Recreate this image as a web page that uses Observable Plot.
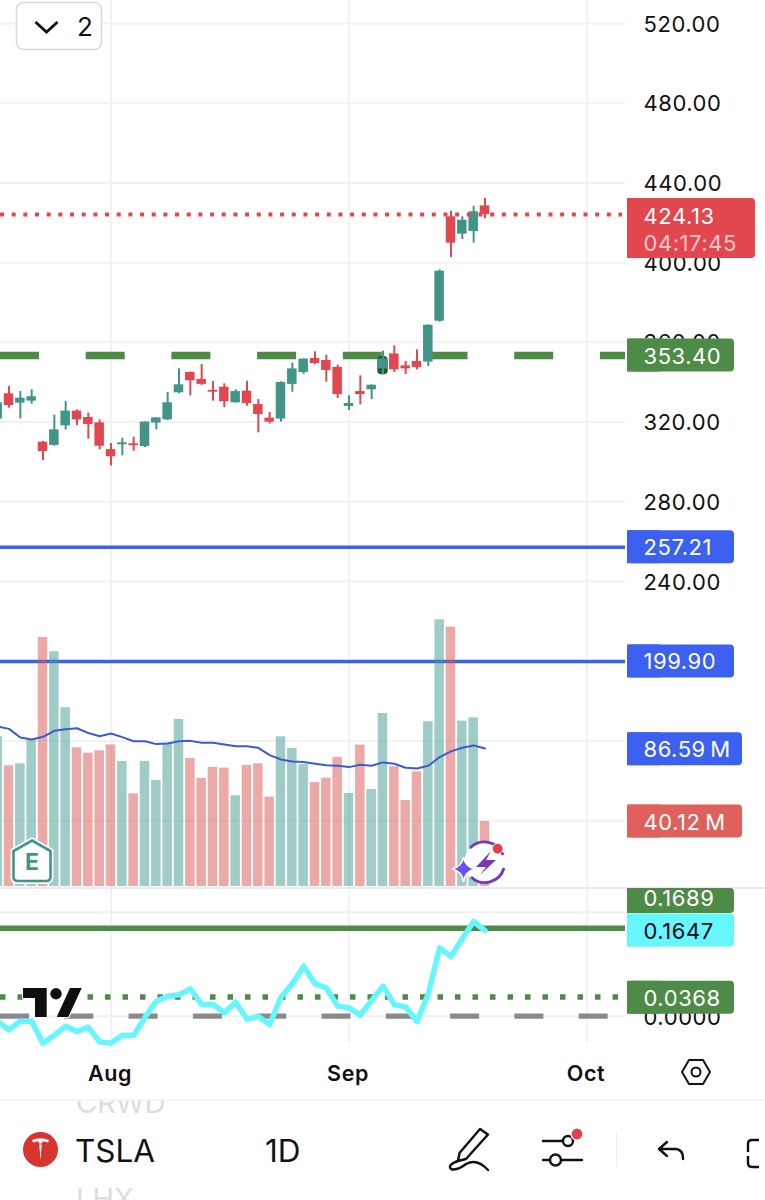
<!DOCTYPE html>
<html>
<head>
<meta charset="utf-8">
<title>TSLA 1D</title>
<script src="https://cdn.jsdelivr.net/npm/d3@7"></script>
<script src="https://cdn.jsdelivr.net/npm/@observablehq/plot@0.6"></script>
<style>
  html, body { margin: 0; background: #fff; }
  #stage { position: relative; width: 765px; height: 1200px; overflow: hidden; background: #fff; font-family: Inter, sans-serif; }
  #stage > svg { position: absolute; left: 0; top: 0; }
  .wide-text text { letter-spacing: 0.55px; }
</style>
</head>
<body>
<div id="stage"></div>
<script>
// ---- data (trading-day index: 0 = 1 Aug, 21 = 2 Sep, 42 = 1 Oct) ----
const firstDay = -10;
const opens = [321.5,334.2,329.5,330.5,309.9,308.3,318.1,325.5,322.3,319.6,306.2,308.6,309.1,307.75,319.5,321.1,334.7,344.9,341.4,335.9,337.5,329.7,335.5,328.8,322.0,321.5,338.9,344.9,351.9,350.9,347.4,327.8,335.3,336.2,346.7,354.2,348.2,350.4,350.1,370.6,423.0,414.3,415.6,428.5];
const closes = [329.7,328.3,332.0,332.7,305.2,316.1,325.5,321.1,318.8,307.9,302.6,309.6,308.1,320.0,322.1,329.7,338.7,340.7,338.9,335.0,330.2,335.3,329.3,323.8,319.95,339.9,346.7,351.6,349.4,345.9,333.8,329.3,333.8,338.5,351.7,346.2,346.7,347.4,368.6,395.7,409.8,421.3,425.5,424.13];
const highs = [331,337.9,335.3,336.2,310.3,323.5,330.3,326.1,324.5,321.1,309.3,311.9,312.4,320.1,322.1,334.9,346.7,345.2,348.9,340.4,339.2,336.2,340.5,331.3,324.8,340.2,349.6,351.7,355.2,353.6,348.55,333.2,343.2,338.7,355.6,358.3,350.4,356.2,368.8,396.4,425.8,423.0,428.3,432.2];
const lows = [321,327,321.6,329,300.7,307.9,316,318.3,311.4,306.1,297.9,303.1,305.4,307.25,316.1,320.8,334.2,333.2,338.4,330.5,327.2,329.5,328,314.6,319.1,320,335,343.9,348.9,340,331.8,325.8,328.65,331.3,343.7,344.9,343.9,346.2,347.9,370.1,402.6,411.6,409.8,422];
const volumes = [92.4,74.5,75.7,90.5,153.7,144.9,110.3,85.6,82.3,83.75,87.4,77.2,57.2,77.2,65.4,88.5,103.1,79.0,66.7,73.5,73.05,56.0,74.7,75.7,55.2,92.4,85.2,75.3,64.2,66.9,79.7,57.4,87.3,59.9,106.8,73.9,53.1,70.8,101.7,164.6,160.1,102.1,104.1,40.12];
const volumeAverage = [98.8,97.3,92.0,90.7,92.4,96.1,97.1,97.7,94.7,92.8,94.4,92.2,89.7,89.7,87.9,88.3,89.7,89.9,88.7,88.7,87.7,86.6,86.6,85.6,81.1,78.4,77.2,76.8,75.8,74.9,74.5,73.7,75.1,74.5,76.6,75.8,73.3,72.9,74.5,79.9,83.4,85.6,87.1,85.2];
const oscillator = [-.0102,-.0262,-.0095,-.0095,-.0518,-.0371,-.0192,-.0294,-.0211,-.0493,-.0518,-.0365,-.0371,-.0019,.0289,.0385,.0411,.0526,.0225,.0225,.0065,.027,-.0057,-.0006,-.016,.0366,.0622,.0962,.0622,.0546,.0193,.0161,.002,.0302,.0578,.0225,.018,-.0102,.043,.1315,.1148,.1488,.1821,.1647];
const priceTicks = [520,480,440,400,360,320,280,240];
const priceGridOnly = [200,160,120];
const oscTicks = [0.2,0];
const monthTicks = [0,21,42];
const monthLabels = ["Aug","Sep","Oct"];
const lastPrice = 424.13;
const greenLevel = 353.40;
const blueLevels = [257.21,199.90];
const oscUpper = 0.1689;
const oscLower = 0.0368;
const alertDays = [24];

// ---- layout helpers: the one shared frame (dual-axis idiom, values rescaled onto the price axis) ----
const X = px => (px - 110.5) / 11.333;
const Y = py => 520 - (py - 23) / 1.9929;
const volY = d3.scaleLinear([0,100],[Y(886),Y(724)]);
const oscY = d3.scaleLinear([0,0.2],[Y(1015.7),Y(911.7)]);
const px = n => n / 1.9929;

const red = "#E2474F", teal = "#419488", green = "#4E8B47", blue = "#3C60F0", cyan = "#66F6FF";
const days = opens.map((o,i) => ({
  day: firstDay + i, open: o, close: closes[i], high: highs[i], low: lows[i],
  volume: volumes[i], average: volumeAverage[i], osc: oscillator[i], up: closes[i] >= o
}));
const left = X(0), gridEnd = X(625), labelX = X(643), boxL = X(627);

const priceFmt = d3.format(".2f");
const badges = [
  {y: Y(228), h: 30, r: 755, fill: red},
  {y: greenLevel, h: 16.5, r: 734, fill: green, text: greenLevel.toFixed(2)},
  {y: blueLevels[0], h: 16.5, r: 734, fill: blue, text: blueLevels[0].toFixed(2)},
  {y: blueLevels[1], h: 16.5, r: 734, fill: blue, text: blueLevels[1].toFixed(2)},
  {y: volY(86.59) - px(3), h: 16.5, r: 742, fill: blue, text: "86.59\u2009M"},
  {y: volY(40.12), h: 16.5, r: 742, fill: "#E0605B", text: "40.12\u2009M"},
  {y: Y(900.5), h: 12.5, r: 734, fill: green, text: oscUpper.toFixed(4), ty: Y(897)},
  {y: oscY(0.1647), h: 16.5, r: 734, fill: cyan, text: "0.1647", color: "#0a0a14"},
  {y: oscY(oscLower) - px(0.7), h: 16.5, r: 734, fill: green, text: oscLower.toFixed(4)}
];
const textFont = {fontFamily: "Inter, sans-serif", fontSize: 22, dy: 1};

const chart = Plot.plot({
  width: 765, height: 1200, margin: 0,
  className: "wide-text",
  style: {background: "transparent"},
  x: {domain: [X(0), X(765)], range: [0,765], axis: null},
  y: {domain: [Y(0), Y(1200)], range: [0,1200], axis: null},
  marks: [
    // grid
    Plot.ruleY([...priceTicks, ...priceGridOnly], {x1: left, x2: gridEnd, stroke: "#F0F2F5", strokeWidth: 2}),
    Plot.ruleY(oscTicks.map(v => oscY(v)), {x1: left, x2: gridEnd, stroke: "#EEF0F3", strokeWidth: 2}),
    Plot.ruleX(monthTicks, {y1: Y(0), y2: Y(1043), stroke: "#F0F2F5", strokeWidth: 2}),
    // blue levels
    Plot.ruleY(blueLevels, {x1: left, x2: X(625), stroke: blue, strokeWidth: 3.6}),
    // volume
    Plot.rectY(days, {x1: d => d.day - 0.42, x2: d => d.day + 0.42, y1: volY(0), y2: d => volY(d.volume),
      fill: d => d.up ? "#3F9A8E" : "#D85650", fillOpacity: 0.5}),
    Plot.line(days, {x: "day", y: d => volY(d.average), stroke: "#3A5BD8", strokeWidth: 2}),
    // support level
    Plot.ruleY([greenLevel], {x1: left, x2: gridEnd, stroke: green, strokeWidth: 7.3, strokeDasharray: "39,46.7"}),
    // alert marker behind a candle
    Plot.rectY(days.filter(d => alertDays.includes(d.day)), {x1: d => d.day - 0.46, x2: d => d.day + 0.46,
      y1: d => d.low, y2: d => d.close + 1.2, fill: "#1F5A35", rx: 4}),
    // candles
    Plot.ruleX(days, {x: "day", y1: "low", y2: "high", stroke: d => d.up ? teal : red, strokeWidth: 2}),
    Plot.rectY(days, {x1: d => d.day - 0.42, x2: d => d.day + 0.42, y1: "open", y2: "close",
      fill: d => d.up ? teal : red}),
    // last price
    Plot.ruleY([lastPrice], {x1: left, x2: X(622), stroke: red, strokeWidth: 4, strokeDasharray: "4,7.67"}),
    // pane separators
    Plot.ruleY([Y(887.5)], {stroke: "#E3E5E8", strokeWidth: 1.5}),
    Plot.ruleY([Y(1099.5)], {stroke: "#F2F3F4", strokeWidth: 1.5}),
    // oscillator
    Plot.ruleY([oscY(oscUpper)], {x1: left, x2: gridEnd, stroke: green, strokeWidth: 5.5}),
    Plot.ruleY([oscY(0)], {x1: left, x2: X(608), stroke: "#8A8A8C", strokeWidth: 5.2, strokeDasharray: "29,35.3"}),
    Plot.ruleY([oscY(oscLower)], {x1: left, x2: gridEnd, stroke: green, strokeWidth: 5.5, strokeDasharray: "5.5,12"}),
    Plot.line(days, {x: "day", y: d => oscY(d.osc), stroke: cyan, strokeWidth: 5.5}),
    // axis labels
    Plot.text(priceTicks, {x: labelX, y: d => d, text: priceFmt, textAnchor: "start", fill: "#111", ...textFont}),
    Plot.text([0], {x: labelX, y: oscY(0) - px(1), text: () => "0.0000", textAnchor: "start", fill: "#111", ...textFont}),
    Plot.text(monthTicks, {x: d => d, y: Y(1073), text: (d,i) => monthLabels[i], fill: "#111", fontWeight: 600,
      fontFamily: "Inter, sans-serif", fontSize: 21.5, dy: 1, dx: -1}),
    // price badges
    Plot.rect(badges, {x1: boxL, x2: d => X(d.r), y1: d => d.y + px(d.h), y2: d => d.y - px(d.h), fill: "fill", rx: 4}),
    Plot.rect(badges, {x1: boxL, x2: X(660), y1: d => d.y + px(d.h), y2: d => d.y - px(d.h), fill: "fill"}),
    Plot.text(badges.filter(d => d.text), {x: labelX, y: d => d.ty ?? d.y, text: "text", textAnchor: "start",
      fill: d => d.color ?? "#fff", ...textFont}),
    Plot.text([lastPrice.toFixed(2)], {x: labelX, y: Y(215), text: d => d, textAnchor: "start", fill: "#fff", ...textFont}),
    Plot.text(["04:17:45"], {x: labelX, y: Y(242), text: d => d, textAnchor: "start", fill: "#F8C9CC", ...textFont})
  ]
});
document.getElementById("stage").appendChild(chart);

// ---- app chrome drawn over the chart ----
const chrome = `
<svg width="765" height="1200" viewBox="0 0 765 1200" fill="none" xmlns="http://www.w3.org/2000/svg" font-family="Inter, sans-serif">
  <defs><clipPath id="below"><rect x="0" y="1100.5" width="765" height="100"/></clipPath></defs>
  <rect x="16.5" y="2.5" width="85" height="47" rx="7" fill="#fff" stroke="#D8DADD" stroke-width="1.6"/>
  <path d="M35.5 22 L46.5 32 L57.5 22" stroke="#111" stroke-width="2.8"/>
  <text x="77" y="35.5" font-size="26" fill="#111">2</text>

  <path d="M32 840.5 L50.5 851 V877 Q50.5 881 46 881 H18 Q13.5 881 13.5 877 V851 Z" fill="#fff" stroke="#fff" stroke-width="6"/>
  <path d="M32 840.5 L50.5 851 V877 Q50.5 881 46 881 H18 Q13.5 881 13.5 877 V851 Z" fill="#fff" stroke="#419488" stroke-width="2.6"/>
  <text x="32" y="870" text-anchor="middle" font-size="23" font-weight="700" fill="#419488">E</text>

  <circle cx="485" cy="863" r="21" fill="#fff"/>
  <path d="M470 848 A20 20 0 0 1 503 855 M504 868 A20 20 0 0 1 471 877" stroke="#7B36B8" stroke-width="2.8"/>
  <path d="M491 851 L476 867 H486 L480 875 L496 860 H486 Z" fill="#7B36B8"/>
  <path d="M463.5 857 Q465 867 475 869 Q465 871 463.5 882 Q462 871 452 869 Q462 867 463.5 857 Z" fill="#6A4DFF" stroke="#fff" stroke-width="1.5"/>
  <circle cx="497.7" cy="848.7" r="5.4" fill="#E2404A" stroke="#fff" stroke-width="1"/>

  <g stroke="#fff" stroke-width="2" stroke-linejoin="round" paint-order="stroke" fill="#0F0F0F">
    <path d="M23 988 H46.7 V1017 H35 V998 H23 Z"/>
    <circle cx="56" cy="993.7" r="5.7"/>
    <path d="M70 988 H81.7 L68.3 1017 H56.7 Z"/>
  </g>

  <path d="M682 1072 L689 1060 H703 L710 1072 L703 1084 H689 Z" stroke="#111" stroke-width="2"/>
  <circle cx="696" cy="1072" r="4.5" stroke="#111" stroke-width="2"/>

  <g clip-path="url(#below)">
    <text x="76" y="1113" font-size="29" fill="#DCDDDF">CRWD</text>
    <text x="76" y="1209" font-size="29" fill="#DCDDDF">LHX</text>
  </g>

  <circle cx="40.5" cy="1149.5" r="17.5" fill="#D8352F"/>
  <path d="M32 1140 Q40.5 1136.5 49 1140 L48 1142.5 Q45 1141.4 42.8 1141.6 L41.6 1143.6 H39.4 L38.2 1141.6 Q36 1141.4 33 1142.5 Z M39.3 1144.5 H41.7 L40.5 1160.5 Z" fill="#fff"/>
  <text x="75" y="1162" font-size="31.5" fill="#111">TSLA</text>
  <text x="265" y="1162" font-size="31.5" fill="#111">1D</text>

  <g stroke="#111" stroke-width="2.4" stroke-linecap="round" stroke-linejoin="round">
    <path d="M480 1129 L488 1134.5 L466 1159 L458 1161 L459.5 1153 Z"/>
    <path d="M458 1161 Q447 1165 451 1169 Q457 1171 466 1164 Q477 1158 488 1170"/>
    <path d="M543 1141 H563 M543 1160 H550 M561 1160 H582"/>
    <circle cx="568" cy="1141" r="5"/>
    <circle cx="555.5" cy="1160" r="5.5"/>
    <path d="M667 1142 L659 1149 L667 1156 M660 1149 H676 Q683 1150 683 1158 V1159"/>
  </g>
  <circle cx="577" cy="1134" r="6" fill="#E2404A" stroke="#fff" stroke-width="1.2"/>
  <path d="M616.5 1131 V1167" stroke="#EDEEF0" stroke-width="1"/>
  <path d="M759 1140 H752 Q748 1140 748 1144 V1152 M759 1167 H752 Q748 1167 748 1163 V1156" stroke="#111" stroke-width="2.4"/>
</svg>`;
const holder = document.createElement("div");
holder.innerHTML = chrome;
document.getElementById("stage").appendChild(holder.firstElementChild);
</script>
</body>
</html>
